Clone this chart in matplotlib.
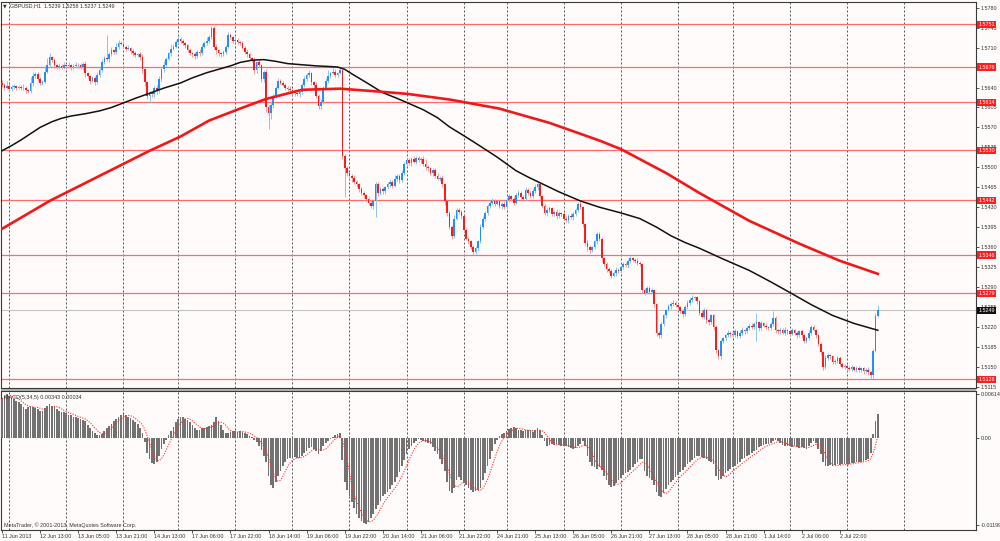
import matplotlib
matplotlib.use('Agg')
import matplotlib.pyplot as plt
import matplotlib.transforms as mtrans
from matplotlib.patches import Rectangle
import numpy as np
import pandas as pd

plt.rcParams['font.family'] = ['Liberation Sans', 'DejaVu Sans']

# ---------------- data (prices in pips above 1.5000) ----------------
symbol_title = "GBPUSD,H1  1.5239 1.5258 1.5237 1.5249"
macd_title = "MACD(5,34,5) 0.00343 0.00034"
copyright_text = "MetaTrader, \u00a9 2001-2013, MetaQuotes Software Corp."

open0 = 648
closes = [
    645, 640, 643, 638, 641, 642, 640, 641, 639, 640, 636, 634, 648, 660, 664, 655,
    648, 650, 668, 680, 693, 688, 680, 676, 678, 675, 679, 677, 680, 676, 678, 680,
    679, 676, 682, 665, 660, 652, 657, 650, 662, 670, 685, 692, 690, 698, 705, 702,
    712, 719, 716, 712, 708, 710, 704, 700, 697, 699, 694, 672, 650, 625, 630, 628,
    640, 635, 655, 672, 680, 690, 700, 708, 712, 720, 725, 722, 718, 714, 706, 700,
    698, 695, 702, 700, 712, 718, 722, 728, 745, 712, 705, 700, 698, 702, 712, 732,
    728, 722, 724, 720, 718, 710, 703, 698, 692, 688, 670, 684, 680, 655, 668, 605,
    595, 610, 625, 640, 652, 648, 645, 640, 638, 635, 632, 630, 628, 632, 645, 655,
    662, 665, 650, 645, 625, 608, 615, 640, 652, 660, 665, 668, 662, 665, 670, 520,
    498, 490, 485, 482, 475, 470, 462, 455, 452, 445, 438, 432, 440, 470, 455, 462,
    458, 465, 470, 475, 468, 480, 485, 478, 490, 505, 512, 508, 515, 510, 516, 512,
    515, 505, 500, 498, 490, 495, 485, 480, 482, 470, 440, 420, 395, 380, 410, 425,
    422, 415, 390, 375, 370, 360, 352, 358, 370, 395, 410, 420, 432, 438, 441, 436,
    440, 432, 436, 430, 442, 450, 445, 438, 452, 455, 448, 445, 460, 455, 450, 458,
    465, 470, 450, 432, 420, 425, 428, 418, 422, 414, 420, 418, 410, 408, 415, 412,
    418, 425, 436, 430, 400, 368, 360, 355, 360, 370, 383, 375, 340, 330, 322, 318,
    310, 315, 320, 318, 325, 330, 328, 335, 340, 338, 336, 332, 330, 285, 280, 288,
    282, 284, 260, 210, 205, 225, 240, 250, 256, 260, 262, 258, 255, 248, 243, 255,
    262, 268, 270, 272, 265, 245, 238, 250, 232, 228, 240, 220, 180, 168, 195, 200,
    205, 210, 208, 206, 212, 204, 210, 214, 212, 218, 222, 220, 225, 228, 218, 226,
    222, 220, 218, 225, 236, 214, 212, 215, 210, 214, 212, 208, 214, 210, 206, 212,
    205, 196, 200, 210, 220, 215, 205, 190, 175, 150, 165, 170, 168, 158, 160, 165,
    155, 150, 152, 148, 146, 150, 145, 148, 144, 147, 142, 145, 140, 135, 178, 239, 249,
]
hi_ext = [
    6, 3, 8, 4, 3, 5, 2, 4, 3, 6, 3, 2, 10, 8, 3, 4,
    4, 3, 6, 12, 8, 3, 4, 2, 5, 3, 6, 3, 4, 2, 3, 5,
    3, 4, 2, 5, 3, 2, 4, 3, 6, 4, 5, 3, 40, 4, 6, 3,
    6, 4, 3, 5, 3, 4, 2, 3, 4, 2, 3, 4, 3, 2, 4, 3,
    3, 4, 5, 3, 6, 4, 3, 8, 5, 4, 6, 3, 4, 2, 3, 4,
    3, 4, 3, 5, 4, 3, 6, 4, 3, 3, 4, 3, 2, 4, 3, 5,
    4, 3, 5, 3, 2, 4, 3, 5, 3, 2, 6, 3, 4, 2, 3, 4,
    5, 6, 4, 3, 5, 3, 4, 3, 2, 4, 3, 2, 3, 4, 3, 5,
    4, 6, 3, 2, 4, 3, 5, 3, 4, 10, 3, 6, 4, 3, 5, 2,
    3, 4, 2, 3, 5, 3, 2, 4, 3, 2, 3, 4, 3, 5, 4, 3,
    4, 3, 5, 4, 3, 6, 4, 3, 5, 4, 3, 4, 3, 5, 3, 4,
    3, 5, 10, 4, 3, 4, 3, 5, 3, 4, 3, 2, 3, 4, 6, 3,
    4, 3, 2, 4, 3, 2, 3, 4, 3, 5, 4, 3, 4, 5, 6, 3,
    3, 4, 3, 5, 4, 3, 2, 4, 3, 6, 3, 4, 5, 3, 4, 5,
    6, 5, 3, 2, 4, 3, 4, 2, 3, 4, 3, 2, 3, 4, 3, 4,
    3, 4, 3, 5, 2, 3, 4, 3, 2, 3, 4, 3, 2, 3, 4, 3,
    4, 3, 5, 3, 2, 4, 3, 4, 5, 3, 2, 4, 3, 2, 3, 4,
    3, 4, 3, 2, 3, 4, 3, 2, 4, 3, 6, 4, 3, 2, 3, 4,
    5, 4, 6, 3, 2, 3, 4, 3, 2, 4, 3, 2, 3, 2, 4, 3,
    3, 4, 2, 3, 5, 3, 4, 5, 3, 4, 3, 5, 4, 17, 3, 4,
    3, 4, 2, 3, 12, 3, 2, 4, 3, 6, 3, 2, 4, 3, 2, 3,
    4, 3, 2, 5, 4, 3, 2, 3, 4, 3, 6, 4, 3, 2, 3, 4,
    3, 4, 2, 3, 4, 3, 2, 3, 4, 3, 2, 3, 4, 2, 3, 5, 9,
]
lo_ext = [
    4, 5, 3, 6, 4, 3, 5, 3, 4, 3, 6, 4, 3, 5, 3, 4,
    3, 4, 2, 3, 4, 3, 5, 3, 4, 3, 2, 4, 3, 5, 3, 4,
    4, 3, 5, 6, 4, 5, 3, 6, 4, 3, 2, 4, 3, 5, 3, 4,
    3, 4, 2, 3, 4, 3, 5, 4, 3, 4, 5, 6, 8, 6, 12, 4,
    5, 6, 4, 3, 4, 3, 2, 4, 3, 2, 3, 4, 3, 5, 4, 3,
    4, 5, 3, 4, 3, 2, 4, 3, 2, 5, 6, 4, 5, 3, 4, 3,
    3, 4, 2, 3, 4, 3, 5, 4, 3, 4, 6, 5, 4, 6, 5, 8,
    28, 10, 6, 4, 3, 4, 3, 5, 4, 3, 5, 4, 3, 4, 3, 4,
    3, 4, 6, 5, 4, 5, 6, 4, 3, 4, 3, 2, 4, 3, 2, 5,
    50, 6, 5, 8, 4, 5, 6, 4, 5, 6, 5, 4, 6, 28, 5, 4,
    5, 4, 3, 5, 4, 3, 4, 5, 3, 4, 3, 4, 5, 3, 4, 3,
    4, 3, 5, 4, 3, 5, 4, 3, 4, 5, 6, 5, 4, 5, 4, 3,
    4, 5, 4, 3, 5, 4, 6, 5, 4, 3, 4, 5, 3, 4, 3, 4,
    3, 4, 5, 3, 4, 3, 5, 4, 3, 4, 3, 5, 4, 3, 4, 3,
    3, 4, 5, 4, 3, 5, 4, 3, 4, 5, 3, 4, 3, 4, 5, 3,
    4, 3, 4, 3, 5, 4, 6, 5, 4, 3, 4, 5, 6, 4, 5, 4,
    4, 3, 5, 4, 3, 4, 3, 4, 3, 5, 4, 3, 4, 5, 4, 3,
    4, 3, 5, 6, 5, 4, 3, 4, 3, 4, 3, 4, 3, 4, 5, 4,
    4, 3, 4, 3, 5, 4, 3, 4, 5, 4, 3, 5, 6, 5, 4, 3,
    4, 3, 5, 4, 3, 4, 3, 5, 4, 3, 4, 3, 4, 30, 5, 4,
    3, 4, 3, 4, 3, 4, 5, 4, 3, 4, 5, 4, 3, 4, 5, 4,
    4, 5, 4, 3, 4, 3, 5, 4, 5, 6, 4, 3, 5, 4, 3, 4,
    4, 3, 4, 5, 3, 4, 3, 5, 4, 3, 4, 3, 4, 6, 4, 3, 2,
]
# MACD main values (x 1e-5)
macd_vals = [
    550, 580, 610, 590, 560, 540, 520, 500, 470, 440, 410, 430, 450, 440, 420, 400,
    380, 380, 420, 450, 470, 450, 430, 400, 380, 370, 360, 350, 330, 320, 300, 290,
    280, 270, 260, 240, 180, 140, 100, 70, 50, 50, 60, 100, 140, 170, 200, 240,
    270, 300, 330, 340, 320, 300, 280, 260, 230, 200, 150, 80, -50, -200, -280, -340,
    -360, -320, -240, -150, -80, -20, 50, 100, 160, 220, 270, 300, 290, 270, 250, 220,
    180, 150, 120, 120, 140, 150, 160, 170, 180, 220, 300, 240, 180, 120, 80, 70,
    90, 100, 100, 90, 100, 90, 70, 60, 40, 20, -20, -50, -100, -160, -240, -330,
    -520, -650, -680, -600, -520, -450, -380, -330, -280, -270, -270, -260, -270, -270, -250, -200,
    -170, -130, -120, -140, -180, -210, -170, -100, -70, -40, -10, 20, 50, 60, 70, -300,
    -600, -720, -800, -880, -970, -1040, -1100, -1140, -1170, -1190, -1160, -1100, -1040, -980, -920, -860,
    -800, -770, -740, -700, -650, -600, -540, -460, -380, -300, -220, -140, -100, -60, -30, -10,
    -20, -40, -50, -60, -80, -120, -170, -220, -280, -350, -450, -600, -730, -760, -680, -580,
    -540, -570, -620, -640, -680, -720, -740, -730, -720, -680, -580, -480, -380, -280, -180, -80,
    -20, 30, 60, 80, 100, 130, 150, 160, 140, 120, 110, 100, 110, 120, 110, 90,
    110, 140, 120, 50, -40, -100, -90, -80, -90, -80, -90, -100, -100, -110, -120, -130,
    -140, -130, -110, -80, -40, -100, -240, -320, -380, -400, -420, -400, -440, -520, -580, -640,
    -670, -660, -620, -580, -550, -510, -480, -460, -440, -400, -360, -320, -290, -280, -450, -520,
    -550, -570, -640, -740, -800, -810, -760, -700, -640, -600, -570, -530, -500, -470, -440, -400,
    -360, -330, -300, -270, -250, -240, -260, -270, -290, -310, -330, -360, -520, -580, -560, -520,
    -480, -450, -420, -400, -380, -350, -320, -290, -270, -250, -230, -200, -180, -160, -120, -100,
    -90, -80, -80, -70, -40, -20, -30, -60, -90, -100, -100, -110, -120, -110, -120, -130,
    -120, -130, -140, -110, -60, -40, -70, -140, -220, -320, -380, -380, -370, -380, -370, -360,
    -370, -360, -360, -350, -350, -340, -340, -330, -320, -320, -310, -300, -280, -200, 60, 240, 343,
]

hlines = [1.5751, 1.5676, 1.5614, 1.5530, 1.5442, 1.5346, 1.5279, 1.5128]
last_price = 1.5249

# moving averages read at sample bars
ma_black_bars = [0, 4, 8, 12, 16, 21, 25, 29, 35, 41, 46, 51, 56, 62, 68, 75, 80, 86, 91, 96,
                 100, 105, 110, 115, 120, 126, 132, 137, 141, 144, 147, 153, 160, 166, 171,
                 177, 183, 188, 195, 201, 208, 216, 221, 226, 234, 243, 251, 260, 268, 275,
                 281, 287, 293, 303, 314, 323, 332, 340, 349, 358, 368]
ma_black_vals = [1.5529, 1.5538, 1.5548, 1.5559, 1.5570, 1.5580, 1.5586, 1.5590, 1.5594,
                 1.5599, 1.5605, 1.5613, 1.5621, 1.5630, 1.5639, 1.5648, 1.5657, 1.5666,
                 1.5672, 1.5678, 1.5684, 1.5688, 1.5689, 1.5686, 1.5682, 1.5680, 1.5678,
                 1.5677, 1.5676, 1.5672, 1.5664, 1.5649, 1.5631, 1.5621, 1.5612, 1.5601,
                 1.5587, 1.5571, 1.5553, 1.5537, 1.5518, 1.5494, 1.5483, 1.5473, 1.5457,
                 1.5441, 1.5430, 1.5420, 1.5410, 1.5395, 1.5380, 1.5368, 1.5358, 1.5339,
                 1.5319, 1.5299, 1.5278, 1.5259, 1.5240, 1.5226, 1.5214]
ma_red_bars = [0, 20, 41, 62, 75, 87, 100, 111, 126, 142, 155, 170, 188, 209, 230, 251,
               260, 279, 293, 314, 335, 352, 368]
ma_red_vals = [1.5392, 1.5441, 1.5485, 1.5529, 1.5554, 1.5582, 1.5603, 1.5620, 1.5636,
               1.5638, 1.5634, 1.5629, 1.5619, 1.5603, 1.5578, 1.5547, 1.5532, 1.5490,
               1.5455, 1.5406, 1.5366, 1.5336, 1.5313]

price_ticks = [1.5780, 1.5745, 1.5710, 1.5675, 1.5640, 1.5605, 1.5570, 1.5535, 1.5500,
               1.5465, 1.5430, 1.5395, 1.5360, 1.5325, 1.5290, 1.5255, 1.5220, 1.5185,
               1.5150, 1.5115]
day_start_bars = [3, 27, 51, 74, 98, 122, 146, 170, 194, 212, 236, 260, 284, 307, 331, 355, 379]
time_label_bars = [0, 16, 32, 48, 64, 80, 96, 112, 128, 144, 160, 176, 192, 208, 224, 240,
                   256, 272, 288, 304, 320, 336, 352]
time_labels = ["11 Jun 2013", "12 Jun 13:00", "13 Jun 05:00", "13 Jun 21:00", "14 Jun 13:00",
               "17 Jun 06:00", "17 Jun 22:00", "18 Jun 14:00", "19 Jun 06:00", "19 Jun 22:00",
               "20 Jun 14:00", "21 Jun 06:00", "21 Jun 22:00", "24 Jun 21:00", "25 Jun 13:00",
               "26 Jun 05:00", "26 Jun 21:00", "27 Jun 13:00", "28 Jun 05:00", "28 Jun 21:00",
               "1 Jul 14:00", "2 Jul 06:00", "2 Jul 22:00"]
macd_ticks = [0.00614, 0.0, -0.01199]
macd_ticklabels = ["0.00614", "0.00", "-0.01199"]

# ---------------- derived ----------------
c = 1.5 + np.array(closes) / 1e4
o = np.concatenate([[1.5 + open0 / 1e4], c[:-1]])
hi = np.maximum(o, c) + np.array(hi_ext) / 1e4
lo = np.minimum(o, c) - np.array(lo_ext) / 1e4
n = len(c)
x = np.arange(n)
up = c >= o
macd = np.array(macd_vals) / 1e5
signal = pd.Series(macd).rolling(5, min_periods=1).mean().values

# ---------------- figure ----------------
W, H = 1000, 541
BG = '#fefbfa'
AXC = '#3a3a3a'
FS = 3.9
TXT = '#333333'
fig = plt.figure(figsize=(W / 100, H / 100), dpi=100)
fig.patch.set_facecolor(BG)

def fx(px):
    return px / W

def fy(py):
    return 1 - py / H

L, R = 1, 976
ax = fig.add_axes([fx(L), fy(388), fx(R) - fx(L), fy(2) - fy(388)])
axm = fig.add_axes([fx(L), fy(530), fx(R) - fx(L), fy(391) - fy(530)])

step = 2.38
x0px = 2
xl = ((L - x0px) / step, (R - x0px) / step)

for a in (ax, axm):
    a.set_facecolor(BG)
    a.set_xlim(*xl)
    for s in a.spines.values():
        s.set_color(AXC)
        s.set_linewidth(0.8)
    for b in day_start_bars:
        a.axvline(b, color='#3c3c3c', lw=0.6, ls=(0, (2.4, 2.4)), zorder=1)

# separator band
fig.add_artist(Rectangle((fx(L), fy(391)), fx(R) - fx(L), fy(388) - fy(391),
                         transform=fig.transFigure, fc='#b4b4b4', ec='none', zorder=0))

# main panel
ax.set_ylim(1.51127, 1.57901)
for lv in hlines:
    ax.axhline(lv, color='#ff6b6b', lw=0.9, zorder=2)
ax.axhline(last_price, color='#c4c4c4', lw=0.8, zorder=2)

wick_col = np.where(up, '#8cc4f5', '#f79a9a')
body_col = np.where(up, '#1e90ff', '#ff1a1a')
ax.vlines(x, lo, hi, colors=wick_col, lw=0.7, zorder=3)
ax.bar(x, np.abs(c - o), bottom=np.minimum(o, c), width=0.7, color=body_col,
       linewidth=0, zorder=4)

ax.plot(ma_black_bars, ma_black_vals, color='#111111', lw=1.1, zorder=5,
        solid_joinstyle='round')
ax.plot(ma_red_bars, ma_red_vals, color='#f01818', lw=1.9, zorder=5,
        solid_joinstyle='round')

ax.set_xticks([])
ax.yaxis.tick_right()
ax.set_yticks(price_ticks)
ax.set_yticklabels([f"{v:.4f}" for v in price_ticks])
ax.tick_params(axis='y', length=2.2, width=0.6, color=AXC, pad=1.0,
               labelsize=FS, labelcolor=TXT)

tr = mtrans.blended_transform_factory(ax.transAxes, ax.transData)
bx = (978.5 - L) / (R - L)
for lv in hlines:
    ax.text(bx, lv, f"{lv:.4f}", transform=tr, ha='left', va='center', fontsize=FS,
            color='white', clip_on=False, zorder=10,
            bbox=dict(boxstyle='square,pad=0.22', fc='#ff1e1e', ec='none'))
ax.text(bx, last_price, f"{last_price:.4f}", transform=tr, ha='left', va='center',
        fontsize=FS, color='white', clip_on=False, zorder=10,
        bbox=dict(boxstyle='square,pad=0.22', fc='#101010', ec='none'))

# MACD panel
axm.set_ylim(-0.01268, 0.00656)
axm.bar(x, macd, width=0.72, color='#727272', linewidth=0, zorder=3)
axm.plot(x, signal, color='#ff3030', lw=0.8, ls=(0, (1.0, 1.3)), zorder=4)
axm.yaxis.tick_right()
axm.set_yticks(macd_ticks)
axm.set_yticklabels(macd_ticklabels)
axm.tick_params(axis='y', length=2.2, width=0.6, color=AXC, pad=1.0,
                labelsize=FS, labelcolor=TXT)
axm.set_xticks(time_label_bars)
axm.set_xticklabels(time_labels, ha='left')
axm.tick_params(axis='x', length=2.0, width=0.6, color=AXC, pad=0.8,
                labelsize=FS, labelcolor=TXT)

# texts
fig.text(fx(3), fy(6), "\u25bc", fontsize=3.4, color=TXT, va='center', ha='left',
         family=['DejaVu Sans'])
fig.text(fx(10), fy(6), symbol_title, fontsize=FS, color=TXT, va='center', ha='left')
fig.text(fx(4), fy(397), macd_title, fontsize=FS, color=TXT, va='center', ha='left')
fig.text(fx(4), fy(525), copyright_text, fontsize=FS, color=TXT, va='center', ha='left')

fig.savefig('out.png', dpi=100, facecolor=BG)
